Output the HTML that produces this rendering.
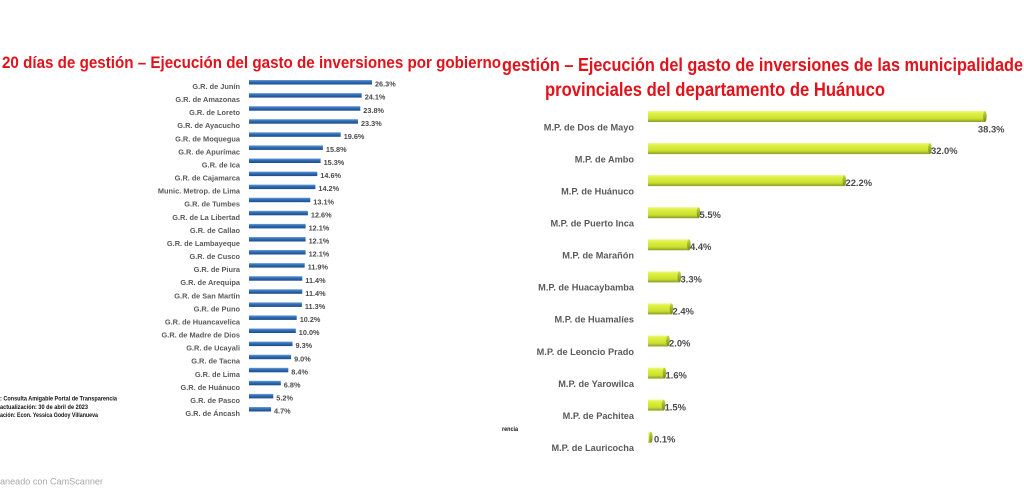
<!DOCTYPE html>
<html>
<head>
<meta charset="utf-8">
<style>
  html,body{margin:0;padding:0;background:#fff;}
  body{width:1024px;height:492px;overflow:hidden;}
  svg{display:block;}
  .t{font-family:"Liberation Sans",sans-serif;font-weight:bold;fill:#e2121b;}
  .ll{font-family:"Liberation Sans",sans-serif;font-weight:bold;font-size:7.4px;fill:#5a5a5a;}
  .lv{font-family:"Liberation Sans",sans-serif;font-weight:bold;font-size:7.3px;fill:#4a4a4a;}
  .rl{font-family:"Liberation Sans",sans-serif;font-weight:bold;font-size:9.2px;fill:#5a5a5a;}
  .rv{font-family:"Liberation Sans",sans-serif;font-weight:bold;font-size:9.4px;fill:#4a4a4a;}
  .src{font-family:"Liberation Sans",sans-serif;font-weight:bold;font-size:6.6px;fill:#111;}
</style>
</head>
<body>
<svg width="1024" height="492" viewBox="0 0 1024 492" xmlns="http://www.w3.org/2000/svg">
  <defs>
    <linearGradient id="bl" x1="0" y1="0" x2="0" y2="1">
      <stop offset="0" stop-color="#6f9fd8"/>
      <stop offset="0.35" stop-color="#3272bb"/>
      <stop offset="1" stop-color="#1c4b86"/>
    </linearGradient>
    <linearGradient id="yg" x1="0" y1="0" x2="0" y2="1">
      <stop offset="0" stop-color="#eef77e"/>
      <stop offset="0.25" stop-color="#dcef3e"/>
      <stop offset="0.7" stop-color="#c9e030"/>
      <stop offset="1" stop-color="#8d9b26"/>
    </linearGradient>
    <linearGradient id="ygc" x1="0" y1="0" x2="0" y2="1">
      <stop offset="0" stop-color="#c4d840"/>
      <stop offset="1" stop-color="#7a8820"/>
    </linearGradient>
  </defs>
  <rect width="1024" height="492" fill="#fff"/>

  <!-- Titles -->
  <text class="t" x="2" y="68" font-size="17" textLength="499" lengthAdjust="spacingAndGlyphs">20 días de gestión – Ejecución del gasto de inversiones por gobierno</text>
  <rect x="501" y="52" width="4" height="22" fill="#fff"/>
  <text class="t" x="502" y="71" font-size="18.5" textLength="521" lengthAdjust="spacingAndGlyphs">gestión – Ejecución del gasto de inversiones de las municipalidade</text>
  <text class="t" x="545" y="96" font-size="19" textLength="340" lengthAdjust="spacingAndGlyphs">provinciales del departamento de Huánuco</text>

  <!-- Left chart -->
  <g>
    <!-- rows: top y, width, label, value -->
    <rect x="249" y="80.0" width="123.0" height="4.5" fill="url(#bl)"/>
    <text class="ll" x="240" y="89.0" text-anchor="end">G.R. de Junín</text>
    <text class="lv" x="375" y="86.6">26.3%</text>

    <rect x="249" y="93.1" width="112.7" height="4.5" fill="url(#bl)"/>
    <text class="ll" x="240" y="102.1" text-anchor="end">G.R. de Amazonas</text>
    <text class="lv" x="364.7" y="99.7">24.1%</text>

    <rect x="249" y="106.2" width="111.3" height="4.5" fill="url(#bl)"/>
    <text class="ll" x="240" y="115.2" text-anchor="end">G.R. de Loreto</text>
    <text class="lv" x="363.3" y="112.8">23.8%</text>

    <rect x="249" y="119.2" width="109.0" height="4.5" fill="url(#bl)"/>
    <text class="ll" x="240" y="128.2" text-anchor="end">G.R. de Ayacucho</text>
    <text class="lv" x="361" y="125.8">23.3%</text>

    <rect x="249" y="132.3" width="91.7" height="4.5" fill="url(#bl)"/>
    <text class="ll" x="240" y="141.3" text-anchor="end">G.R. de Moquegua</text>
    <text class="lv" x="343.7" y="138.9">19.6%</text>

    <rect x="249" y="145.4" width="73.9" height="4.5" fill="url(#bl)"/>
    <text class="ll" x="240" y="154.4" text-anchor="end">G.R. de Apurímac</text>
    <text class="lv" x="325.9" y="152.0">15.8%</text>

    <rect x="249" y="158.5" width="71.6" height="4.5" fill="url(#bl)"/>
    <text class="ll" x="240" y="167.5" text-anchor="end">G.R. de Ica</text>
    <text class="lv" x="323.6" y="165.1">15.3%</text>

    <rect x="249" y="171.6" width="68.3" height="4.5" fill="url(#bl)"/>
    <text class="ll" x="240" y="180.6" text-anchor="end">G.R. de Cajamarca</text>
    <text class="lv" x="320.3" y="178.2">14.6%</text>

    <rect x="249" y="184.6" width="66.4" height="4.5" fill="url(#bl)"/>
    <text class="ll" x="240" y="193.6" text-anchor="end">Munic. Metrop. de Lima</text>
    <text class="lv" x="318.4" y="191.2">14.2%</text>

    <rect x="249" y="197.7" width="61.3" height="4.5" fill="url(#bl)"/>
    <text class="ll" x="240" y="206.7" text-anchor="end">G.R. de Tumbes</text>
    <text class="lv" x="313.3" y="204.3">13.1%</text>

    <rect x="249" y="210.8" width="58.9" height="4.5" fill="url(#bl)"/>
    <text class="ll" x="240" y="219.8" text-anchor="end">G.R. de La Libertad</text>
    <text class="lv" x="310.9" y="217.4">12.6%</text>

    <rect x="249" y="223.9" width="56.6" height="4.5" fill="url(#bl)"/>
    <text class="ll" x="240" y="232.9" text-anchor="end">G.R. de Callao</text>
    <text class="lv" x="308.6" y="230.5">12.1%</text>

    <rect x="249" y="237.0" width="56.6" height="4.5" fill="url(#bl)"/>
    <text class="ll" x="240" y="246.0" text-anchor="end">G.R. de Lambayeque</text>
    <text class="lv" x="308.6" y="243.6">12.1%</text>

    <rect x="249" y="250.0" width="56.6" height="4.5" fill="url(#bl)"/>
    <text class="ll" x="240" y="259.0" text-anchor="end">G.R. de Cusco</text>
    <text class="lv" x="308.6" y="256.6">12.1%</text>

    <rect x="249" y="263.1" width="55.7" height="4.5" fill="url(#bl)"/>
    <text class="ll" x="240" y="272.1" text-anchor="end">G.R. de Piura</text>
    <text class="lv" x="307.7" y="269.7">11.9%</text>

    <rect x="249" y="276.2" width="53.3" height="4.5" fill="url(#bl)"/>
    <text class="ll" x="240" y="285.2" text-anchor="end">G.R. de Arequipa</text>
    <text class="lv" x="305.3" y="282.8">11.4%</text>

    <rect x="249" y="289.3" width="53.3" height="4.5" fill="url(#bl)"/>
    <text class="ll" x="240" y="298.3" text-anchor="end">G.R. de San Martín</text>
    <text class="lv" x="305.3" y="295.9">11.4%</text>

    <rect x="249" y="302.4" width="52.9" height="4.5" fill="url(#bl)"/>
    <text class="ll" x="240" y="311.4" text-anchor="end">G.R. de Puno</text>
    <text class="lv" x="304.9" y="309.0">11.3%</text>

    <rect x="249" y="315.4" width="47.7" height="4.5" fill="url(#bl)"/>
    <text class="ll" x="240" y="324.4" text-anchor="end">G.R. de Huancavelica</text>
    <text class="lv" x="299.7" y="322.0">10.2%</text>

    <rect x="249" y="328.5" width="46.8" height="4.5" fill="url(#bl)"/>
    <text class="ll" x="240" y="337.5" text-anchor="end">G.R. de Madre de Dios</text>
    <text class="lv" x="298.8" y="335.1">10.0%</text>

    <rect x="249" y="341.6" width="43.5" height="4.5" fill="url(#bl)"/>
    <text class="ll" x="240" y="350.6" text-anchor="end">G.R. de Ucayali</text>
    <text class="lv" x="295.5" y="348.2">9.3%</text>

    <rect x="249" y="354.7" width="42.1" height="4.5" fill="url(#bl)"/>
    <text class="ll" x="240" y="363.7" text-anchor="end">G.R. de Tacna</text>
    <text class="lv" x="294.1" y="361.3">9.0%</text>

    <rect x="249" y="367.8" width="39.3" height="4.5" fill="url(#bl)"/>
    <text class="ll" x="240" y="376.8" text-anchor="end">G.R. de Lima</text>
    <text class="lv" x="291.3" y="374.4">8.4%</text>

    <rect x="249" y="380.8" width="31.8" height="4.5" fill="url(#bl)"/>
    <text class="ll" x="240" y="389.8" text-anchor="end">G.R. de Huánuco</text>
    <text class="lv" x="283.8" y="387.4">6.8%</text>

    <rect x="249" y="393.9" width="24.3" height="4.5" fill="url(#bl)"/>
    <text class="ll" x="240" y="402.9" text-anchor="end">G.R. de Pasco</text>
    <text class="lv" x="276.3" y="400.5">5.2%</text>

    <rect x="249" y="407.0" width="22.0" height="4.5" fill="url(#bl)"/>
    <text class="ll" x="240" y="416.0" text-anchor="end">G.R. de Áncash</text>
    <text class="lv" x="274" y="413.6">4.7%</text>
  </g>

  <!-- Source notes -->
  <text class="src" x="0" y="400.5" textLength="117" lengthAdjust="spacingAndGlyphs">: Consulta Amigable Portal de Transparencia</text>
  <text class="src" x="0" y="409" textLength="88" lengthAdjust="spacingAndGlyphs">actualización: 30 de abril de 2023</text>
  <text class="src" x="0" y="416.8" textLength="98" lengthAdjust="spacingAndGlyphs">ación: Econ. Yessica Godoy Villanueva</text>
  <text class="src" x="502" y="431" textLength="16" lengthAdjust="spacingAndGlyphs">rencia</text>

  <!-- Right chart -->
  <g>
    <rect x="648" y="111.0" width="336.9" height="11" fill="url(#yg)"/>
    <ellipse cx="984.9" cy="116.5" rx="1.8" ry="5.5" fill="url(#ygc)"/>
    <text class="rl" x="634" y="130.3" text-anchor="end">M.P. de Dos de Mayo</text>
    <text class="rv" x="1004.5" y="132.7" text-anchor="end">38.3%</text>

    <rect x="648" y="143.1" width="281.9" height="11" fill="url(#yg)"/>
    <ellipse cx="929.9" cy="148.6" rx="1.8" ry="5.5" fill="url(#ygc)"/>
    <text class="rl" x="634" y="162.4" text-anchor="end">M.P. de Ambo</text>
    <text class="rv" x="931" y="154.0">32.0%</text>

    <rect x="648" y="175.1" width="196.3" height="11" fill="url(#yg)"/>
    <ellipse cx="844.3" cy="180.6" rx="1.8" ry="5.5" fill="url(#ygc)"/>
    <text class="rl" x="634" y="194.4" text-anchor="end">M.P. de Huánuco</text>
    <text class="rv" x="845.5" y="186.0">22.2%</text>

    <rect x="648" y="207.2" width="50.5" height="11" fill="url(#yg)"/>
    <ellipse cx="698.5" cy="212.7" rx="1.8" ry="5.5" fill="url(#ygc)"/>
    <text class="rl" x="634" y="226.5" text-anchor="end">M.P. de Puerto Inca</text>
    <text class="rv" x="699.5" y="218.1">5.5%</text>

    <rect x="648" y="239.3" width="40.9" height="11" fill="url(#yg)"/>
    <ellipse cx="688.9" cy="244.8" rx="1.8" ry="5.5" fill="url(#ygc)"/>
    <text class="rl" x="634" y="258.6" text-anchor="end">M.P. de Marañón</text>
    <text class="rv" x="690" y="250.2">4.4%</text>

    <rect x="648" y="271.4" width="31.3" height="11" fill="url(#yg)"/>
    <ellipse cx="679.3" cy="276.9" rx="1.8" ry="5.5" fill="url(#ygc)"/>
    <text class="rl" x="634" y="290.7" text-anchor="end">M.P. de Huacaybamba</text>
    <text class="rv" x="680.5" y="282.3">3.3%</text>

    <rect x="648" y="303.4" width="23.5" height="11" fill="url(#yg)"/>
    <ellipse cx="671.5" cy="308.9" rx="1.8" ry="5.5" fill="url(#ygc)"/>
    <text class="rl" x="634" y="322.7" text-anchor="end">M.P. de Huamalíes</text>
    <text class="rv" x="672.5" y="314.3">2.4%</text>

    <rect x="648" y="335.5" width="20" height="11" fill="url(#yg)"/>
    <ellipse cx="668" cy="341.0" rx="1.8" ry="5.5" fill="url(#ygc)"/>
    <text class="rl" x="634" y="354.8" text-anchor="end">M.P. de Leoncio Prado</text>
    <text class="rv" x="669" y="346.4">2.0%</text>

    <rect x="648" y="367.6" width="16.5" height="11" fill="url(#yg)"/>
    <ellipse cx="664.5" cy="373.1" rx="1.8" ry="5.5" fill="url(#ygc)"/>
    <text class="rl" x="634" y="386.9" text-anchor="end">M.P. de Yarowilca</text>
    <text class="rv" x="665.5" y="378.5">1.6%</text>

    <rect x="648" y="399.6" width="15.6" height="11" fill="url(#yg)"/>
    <ellipse cx="663.6" cy="405.1" rx="1.8" ry="5.5" fill="url(#ygc)"/>
    <text class="rl" x="634" y="418.9" text-anchor="end">M.P. de Pachitea</text>
    <text class="rv" x="664.6" y="410.5">1.5%</text>

    <rect x="648.5" y="431.7" width="2.5" height="11" fill="url(#yg)"/>
    <ellipse cx="651" cy="437.2" rx="1.6" ry="5.5" fill="url(#ygc)"/>
    <text class="rl" x="634" y="451.0" text-anchor="end">M.P. de Lauricocha</text>
    <text class="rv" x="654" y="442.6">0.1%</text>
  </g>

  <!-- Watermark -->
  <text x="0" y="484.5" font-family="Liberation Sans, sans-serif" font-size="9" fill="#a8a8a8" textLength="103" lengthAdjust="spacingAndGlyphs">aneado con CamScanner</text>
</svg>
</body>
</html>
